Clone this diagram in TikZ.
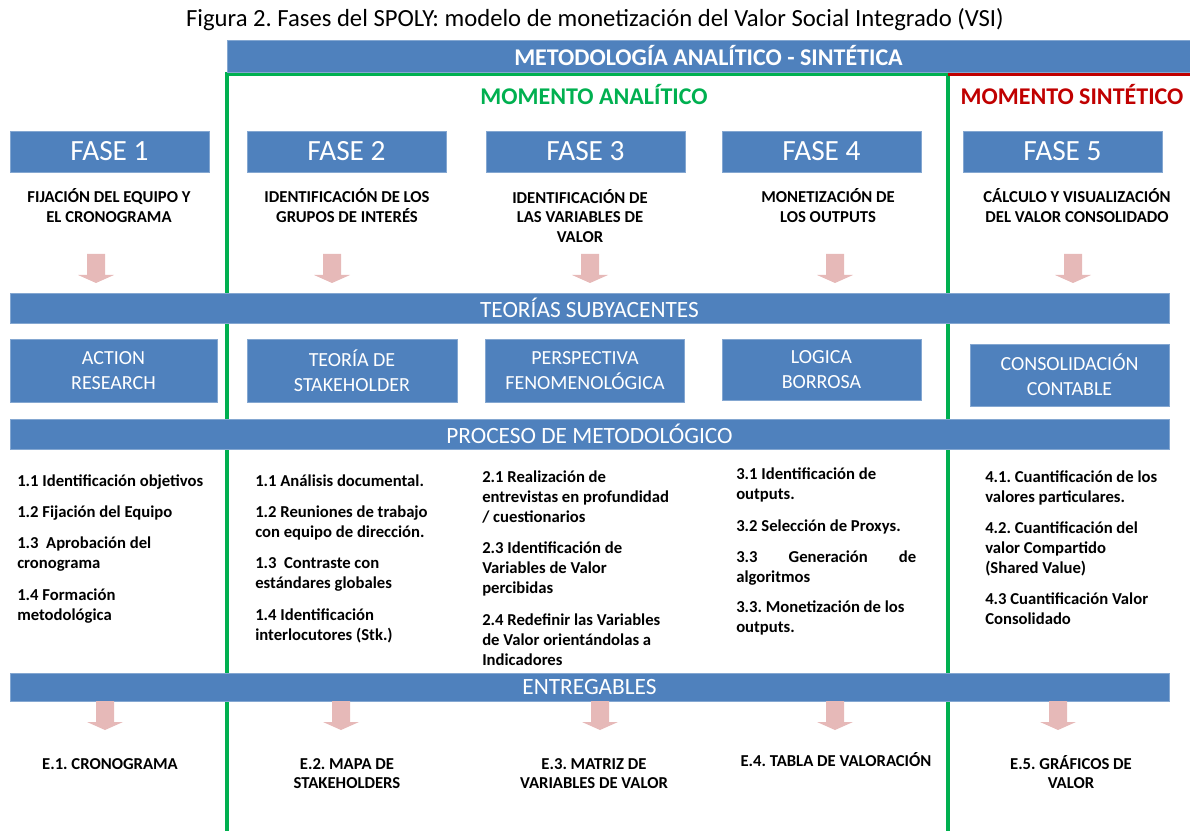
\documentclass[tikz,border=0pt]{standalone}
\usepackage{fontspec}
\setmainfont{Carlito}
\usepackage{tikz}
\usetikzlibrary{backgrounds}
\definecolor{ofblue}{HTML}{4F81BD}
\definecolor{ofpink}{HTML}{E6B9B8}
\definecolor{ofgreen}{HTML}{00B050}
\definecolor{ofred}{HTML}{C00000}
\newcommand{\boxcolor}{ofblue}
\newcommand{\arrowcolor}{ofpink}
\newcommand{\framewidth}{2.4pt}
\newcommand{\px}{0.75pt}
\newcommand{\pinkarrow}[1]{\fill[\arrowcolor] (#1) ++(-9,0) -- ++(18,0) -- ++(0,21) -- ++(9,0) -- ++(-18,8) -- ++(-18,-8) -- ++(9,0) -- cycle;}

\begin{document}
\frenchspacing
\begin{tikzpicture}[x=0.75pt, y=-0.75pt,
  box/.style={fill=\boxcolor, draw=\boxcolor!70!white, line width=0.6pt, inner sep=0pt, text=white, align=center},
  fase/.style={box, minimum width=199*\px, minimum height=41*\px, font=\fontsize{22}{26}\selectfont},
  bar/.style={box, minimum width=1159*\px, font=\fontsize{17.5}{20}\selectfont},
  theory/.style={box, minimum height=63*\px, font=\fontsize{15}{18.75}\selectfont},
  desc/.style={anchor=base, align=center, inner sep=0pt, font=\bfseries\fontsize{12.5}{14.7}\selectfont},
  item/.style={anchor=base west, align=left, inner sep=0pt, font=\bfseries\fontsize{12.5}{15.3}\selectfont}]
\useasboundingbox (0,0) rectangle (1190,831);
\node (title) at (595,20) {\fontsize{18.5}{22}\selectfont Figura 2. Fases del SPOLY: modelo de monetización del Valor Social Integrado (VSI)};
\node[box, minimum width=963*\px, minimum height=32*\px, font=\bfseries\fontsize{18}{21}\selectfont] (met) at (708.5,56) {METODOLOGÍA ANALÍTICO - SINTÉTICA};
%momentos
\coordinate (g1) at (227,74);
\coordinate (g2) at (227,831);
\coordinate (g3) at (948,74);
\coordinate (g4) at (948,831);
\coordinate (r1) at (1190,74);
\begin{scope}[on background layer]
\draw[ofgreen, line width=\framewidth] (g2) -- (g1) -- (g3) -- (g4);
\draw[ofred, line width=\framewidth] (g3) -- (r1);
\end{scope}
\node[text=ofgreen, font=\bfseries\fontsize{18}{21}\selectfont] (ma) at (594,95) {MOMENTO ANALÍTICO};
\node[text=ofred, font=\bfseries\fontsize{18}{21}\selectfont] (ms) at (1072,95) {MOMENTO SINTÉTICO};
%fases
\node[fase] (f1) at (109.5,151.5) {FASE 1};
\node[fase] (f2) at (346.5,151.5) {FASE 2};
\node[fase] (f3) at (585.5,151.5) {FASE 3};
\node[fase] (f4) at (821.5,151.5) {FASE 4};
\node[fase] (f5) at (1062.5,151.5) {FASE 5};
\node[desc] (d1) at (109,222.6) {FIJACIÓN DEL EQUIPO Y\\EL CRONOGRAMA};
\node[desc] (d2) at (347,222.6) {IDENTIFICACIÓN DE LOS\\GRUPOS DE INTERÉS};
\node[desc] (d3) at (580,242.2) {IDENTIFICACIÓN DE\\LAS VARIABLES DE\\VALOR};
\node[desc] (d4) at (828,222.6) {MONETIZACIÓN DE\\LOS OUTPUTS};
\node[desc] (d5) at (1077,222.6) {CÁLCULO Y VISUALIZACIÓN\\DEL VALOR CONSOLIDADO};
\coordinate (a1) at (96,254);
\coordinate (a2) at (332,254);
\coordinate (a3) at (590,254);
\coordinate (a4) at (835,254);
\coordinate (a5) at (1073,254);
\pinkarrow{a1}
\pinkarrow{a2}
\pinkarrow{a3}
\pinkarrow{a4}
\pinkarrow{a5}
%teorias
\node[bar, minimum height=30*\px] (b1) at (589.5,308) {TEORÍAS SUBYACENTES};
\node[theory, minimum width=207*\px] (t1) at (113.5,370.5) {ACTION\\RESEARCH};
\node[theory, minimum width=210*\px] (t2) at (352,370.5) {TEORÍA DE\\STAKEHOLDER};
\node[theory, minimum width=199*\px] (t3) at (585,370.5) {PERSPECTIVA\\FENOMENOLÓGICA};
\node[theory, minimum width=199*\px, minimum height=61*\px] (t4) at (821.5,369.5) {LOGICA\\BORROSA};
\node[theory, minimum width=199*\px, minimum height=62*\px] (t5) at (1069.5,375) {CONSOLIDACIÓN\\CONTABLE};
%proceso
\node[bar, minimum height=30*\px] (b2) at (589.5,434) {PROCESO DE METODOLÓGICO};
\node[item] (p11) at (17,486) {1.1 Identificación objetivos};
\node[item] (p12) at (17,517) {1.2 Fijación del Equipo};
\node[item] (p13) at (17,568.4) {1.3\ \ Aprobación del\\cronograma};
\node[item] (p14) at (17,620.4) {1.4 Formación\\metodológica};
\node[item] (p21) at (255,486) {1.1 Análisis documental.};
\node[item] (p22) at (255,537.4) {1.2 Reuniones de trabajo\\con equipo de dirección.};
\node[item] (p23) at (255,588.4) {1.3\ \ Contraste con\\estándares globales};
\node[item] (p24) at (255,640.4) {1.4 Identificación\\interlocutores (Stk.)};
\node[item] (p31) at (482,522.8) {2.1 Realización de\\entrevistas en profundidad\\/ cuestionarios};
\node[item] (p32) at (482,593.8) {2.3 Identificación de\\Variables de Valor\\percibidas};
\node[item] (p33) at (482,665.8) {2.4 Redefinir las Variables\\de Valor orientándolas a\\Indicadores};
\node[item] (p41) at (736,499.4) {3.1 Identificación de\\outputs.};
\node[item] (p42) at (736,531) {3.2 Selección de Proxys.};
\node[item] (p43) at (736,582.4) {\hbox to 135pt{3.3\hfill Generación\hfill de}\\algoritmos};
\node[item] (p44) at (736,632.4) {3.3. Monetización de los\\outputs.};
\node[item] (p51) at (985,502.4) {4.1. Cuantificación de los\\valores particulares.};
\node[item] (p52) at (985,573.8) {4.2. Cuantificación del\\valor Compartido\\(Shared Value)};
\node[item] (p53) at (985,624.4) {4.3 Cuantificación Valor\\Consolidado};
%entregables
\node[bar, minimum height=28*\px] (b3) at (589.5,687) {ENTREGABLES};
\coordinate (e1) at (105,701);
\coordinate (e2) at (341,701);
\coordinate (e3) at (600,701);
\coordinate (e4) at (835,701);
\coordinate (e5) at (1058,701);
\pinkarrow{e1}
\pinkarrow{e2}
\pinkarrow{e3}
\pinkarrow{e4}
\pinkarrow{e5}
\node[desc] (r1) at (110,769) {E.1. CRONOGRAMA};
\node[desc] (r2) at (347,788.6) {E.2. MAPA DE\\STAKEHOLDERS};
\node[desc] (r3) at (594,788.6) {E.3. MATRIZ DE\\VARIABLES DE VALOR};
\node[desc] (r4) at (836,766) {E.4. TABLA DE VALORACIÓN};
\node[desc] (r5) at (1071,788.6) {E.5. GRÁFICOS DE\\VALOR};
\end{tikzpicture}
\end{document}
